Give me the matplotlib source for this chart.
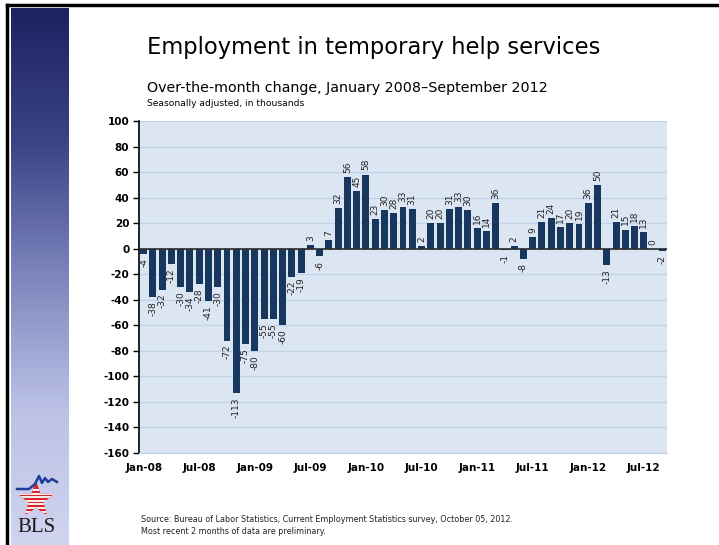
import numpy as np
import matplotlib
matplotlib.use("Agg")
import matplotlib.pyplot as plt
from matplotlib.patches import Polygon
import matplotlib.colors as mcolors

# ---------------- data ----------------
values_2008 = [-4, -38, -32, -12, -30, -34, -28, -41, -30, -72, -113, -75]
values_2009 = [-80, -55, -55, -60, -22, -19, 3, -6, 7, 32, 56, 45]
values_2010 = [58, 23, 30, 28, 33, 31, 2, 20, 20, 31, 33, 30]
values_2011 = [16, 14, 36, -1, 2, -8, 9, 21, 24, 17, 20, 19]
values_2012 = [36, 50, -13, 21, 15, 18, 13, 0, -2]
values = values_2008 + values_2009 + values_2010 + values_2011 + values_2012
tick_labels = ["Jan-08", "Jul-08", "Jan-09", "Jul-09", "Jan-10",
               "Jul-10", "Jan-11", "Jul-11", "Jan-12", "Jul-12"]
y_ticks = list(range(-160, 101, 20))

W, H = 719, 545
fig = plt.figure(figsize=(W / 100, H / 100), dpi=100)
fig.patch.set_facecolor("white")

def fx(px):
    return px / W

def fy(py):
    return 1 - py / H

# ---------------- slide decoration ----------------
band = fig.add_axes([fx(11), 0, fx(69) - fx(11), fy(8)])
cmap = mcolors.LinearSegmentedColormap.from_list(
    "band", ["#1c2260", "#3a4486", "#7d86bd", "#bcc2e6", "#d0d4ef"])
grad = np.linspace(0, 1, 256).reshape(-1, 1)
band.imshow(grad, aspect="auto", cmap=cmap, extent=[0, 1, 0, 1], origin="upper")
band.set_axis_off()

# frame lines
fig.add_artist(plt.Line2D([fx(7), fx(7)], [0, fy(5)], color="black", lw=2.5,
                          transform=fig.transFigure))
fig.add_artist(plt.Line2D([fx(7), fx(718)], [fy(5), fy(5)], color="black", lw=2.5,
                          transform=fig.transFigure))

# BLS logo (decoration)
logo = fig.add_axes([fx(11), fy(540), fx(69) - fx(11), fy(470) - fy(540)])
logo.set_xlim(11, 69)
logo.set_ylim(540, 470)
logo.set_axis_off()
cx, cy, R, r = 36, 500, 19, 8
pts = []
for k in range(10):
    ang = np.pi / 2 + k * np.pi / 5
    rad = R if k % 2 == 0 else r
    pts.append((cx + rad * np.cos(ang), cy - rad * np.sin(ang)))
star = Polygon(pts, closed=True, facecolor="#d8262d", lw=0)
logo.add_patch(star)
for yy in np.arange(490, 518, 3.6):
    ln, = logo.plot([10, 70], [yy, yy], color="white", lw=1.3)
    ln.set_clip_path(star)
line_x = [17, 29, 35, 39, 42, 45, 48, 52, 57]
line_y = [489, 489, 484, 476, 483, 478, 482, 479, 482]
logo.plot(line_x, line_y, color="#1f3d99", lw=1.8)
logo.text(36, 528, "BLS", fontsize=15, family="Liberation Serif",
          ha="center", va="center", color="#1a1a1a")

# ---------------- titles ----------------
fig.text(fx(147), fy(47), "Employment in temporary help services",
         fontsize=16.3, family="DejaVu Sans", ha="left", va="center", color="black")
fig.text(fx(147), fy(88), "Over-the-month change, January 2008\u2013September 2012",
         fontsize=10.3, family="DejaVu Sans", ha="left", va="center", color="black")
fig.text(fx(147), fy(104), "Seasonally adjusted, in thousands",
         fontsize=6.6, family="DejaVu Sans", ha="left", va="center", color="black")

fig.text(fx(141), fy(519),
         "Source: Bureau of Labor Statistics, Current Employment Statistics survey, October 05, 2012.",
         fontsize=5.8, ha="left", va="center", color="#222222")
fig.text(fx(141), fy(531), "Most recent 2 months of data are preliminary.",
         fontsize=5.8, ha="left", va="center", color="#222222")

# ---------------- chart ----------------
ax = fig.add_axes([fx(139), fy(453), fx(667) - fx(139), fy(121) - fy(453)])
ax.set_facecolor("#dce6f2")
x = np.arange(len(values))
ax.bar(x, values, width=0.75, color="#17375e", zorder=3)
ax.axhline(0, color="#2b2b2b", lw=1.2, zorder=4)
ax.set_xlim(-0.5, len(values) - 0.5)
ax.set_ylim(-160, 100)
ax.set_yticks(y_ticks)
ax.set_yticklabels([str(v) for v in y_ticks], fontweight="bold", fontsize=7.5)
ax.yaxis.grid(True, color="#c0d3ea", lw=1, zorder=1)
ax.set_axisbelow(True)
ax.set_xticks(x[::6])
ax.set_xticklabels(tick_labels, fontweight="bold", fontsize=7.5)
ax.tick_params(axis="x", length=0, pad=7)
ax.tick_params(axis="y", length=4, width=1, direction="out", pad=3)
for s in ["top", "right"]:
    ax.spines[s].set_visible(False)
ax.spines["bottom"].set_color("#c0d3ea")
ax.spines["left"].set_color("black")
ax.spines["left"].set_linewidth(1.2)

for xi, v in zip(x, values):
    if v >= 0:
        ax.annotate(str(v), (xi, v), xytext=(0, 3), textcoords="offset points",
                    rotation=90, ha="center", va="bottom", fontsize=6.5,
                    color="#222222", zorder=5)
    else:
        ax.annotate(str(v), (xi, v), xytext=(0, -3), textcoords="offset points",
                    rotation=90, ha="center", va="top", fontsize=6.5,
                    color="#222222", zorder=5)

fig.savefig("out.png", dpi=100)
